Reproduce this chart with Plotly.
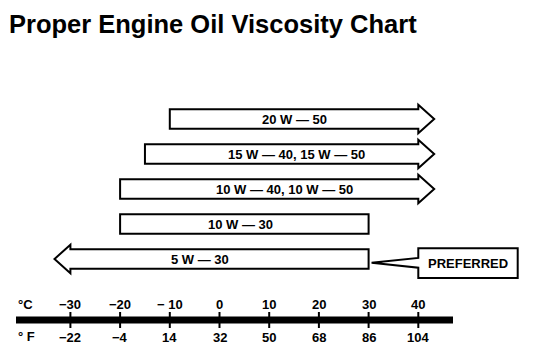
import plotly.graph_objects as go

# ---------------- data ----------------
grades = ["20 W — 50", "15 W — 40, 15 W — 50", "10 W — 40, 10 W — 50", "10 W — 30", "5 W — 30"]
low_c = [-10, -15, -20, -20, -30]          # lowest ambient temperature (°C)
high_c = [40, 40, 40, 30, 30]              # highest ambient temperature (°C)
open_low = [False, False, False, False, True]   # range continues below
open_high = [True, True, True, False, False]    # range continues above
preferred = [False, False, False, False, True]

celsius_ticks = [-30, -20, -10, 0, 10, 20, 30, 40]
celsius_labels = ["−30", "−20", "− 10", "0", "10", "20", "30", "40"]
fahrenheit_labels = ["−22", "−4", "14", "32", "50", "68", "86", "104"]

title = "Proper Engine Oil Viscosity Chart"

# ---------------- style ----------------
OFF = 8                       # page body margin
W, H = 544 - OFF, 356 - OFF   # figure size so it fits the window
px_per_c = 4.97
x0_px = 219.5 - OFF
row_px0, row_step = 119 - OFF, 35
x_range = [-x0_px / px_per_c, (W - x0_px) / px_per_c]
y_range = [(H - row_px0) / row_step, -row_px0 / row_step]


def xpx(p):
    return (p - OFF - x0_px) / px_per_c


def ypx(p):
    return (p - OFF - row_px0) / row_step


FONT = "Liberation Sans, Arial, sans-serif"
shaft_h = 0.28
head_h = 0.41
head_len = 3.2
label_shift = [0.0, 3.0, 3.0, -0.7, -4.0]

shapes = []
annotations = []

for i, g in enumerate(grades):
    lo, hi, y = low_c[i], high_c[i], i
    pts = [(lo, y - shaft_h), (hi, y - shaft_h)]
    if open_high[i]:
        pts += [(hi, y - head_h), (hi + head_len, y), (hi, y + head_h)]
    pts += [(hi, y + shaft_h), (lo, y + shaft_h)]
    if open_low[i]:
        pts += [(lo, y + head_h), (lo - head_len, y), (lo, y - head_h)]
    path = "M " + " L ".join(f"{px},{py}" for px, py in pts) + " Z"
    shapes.append(dict(type="path", path=path, xref="x", yref="y",
                       line=dict(color="black", width=2), fillcolor="white"))
    annotations.append(dict(x=(lo + hi) / 2 + label_shift[i], y=y, xref="x", yref="y",
                            text=g, showarrow=False,
                            font=dict(family=FONT, size=13, color="black", weight="bold")))
    if preferred[i]:
        bx0, bx1 = hi + 10, hi + 30
        by0, by1 = y - 0.31, y + 0.54
        cy = y + 0.11
        callout = (f"M {bx0},{by0} L {bx1},{by0} L {bx1},{by1} L {bx0},{by1} "
                   f"L {bx0},{cy + 0.14} L {hi + 0.6},{cy} L {bx0},{cy - 0.14} Z")
        shapes.append(dict(type="path", path=callout, xref="x", yref="y",
                           line=dict(color="black", width=2), fillcolor="white"))
        annotations.append(dict(x=(bx0 + bx1) / 2, y=(by0 + by1) / 2, xref="x", yref="y",
                                text="PREFERRED", showarrow=False,
                                font=dict(family=FONT, size=13, color="black", weight="bold")))

# temperature scale
bar_y = ypx(320)
shapes.append(dict(type="line", xref="x", yref="y", x0=xpx(16), x1=xpx(453),
                   y0=bar_y, y1=bar_y, line=dict(color="black", width=7)))
for c, cl, fl in zip(celsius_ticks, celsius_labels, fahrenheit_labels):
    shapes.append(dict(type="line", xref="x", yref="y", x0=c, x1=c,
                       y0=ypx(312), y1=ypx(328), line=dict(color="black", width=2)))
    annotations.append(dict(x=c, y=ypx(304), xref="x", yref="y", text=cl, showarrow=False,
                            font=dict(family=FONT, size=13, color="black", weight="bold")))
    annotations.append(dict(x=c, y=ypx(337), xref="x", yref="y", text=fl, showarrow=False,
                            font=dict(family=FONT, size=13, color="black", weight="bold")))
annotations.append(dict(x=xpx(16), y=ypx(304), xref="x", yref="y", text="°C",
                        xanchor="left", showarrow=False,
                        font=dict(family=FONT, size=13, color="black", weight="bold")))
annotations.append(dict(x=xpx(16), y=ypx(336), xref="x", yref="y", text="° F",
                        xanchor="left", showarrow=False,
                        font=dict(family=FONT, size=13, color="black", weight="bold")))

annotations.append(dict(x=(7 - OFF) / W, y=1 - (24 - OFF) / H, xref="paper", yref="paper",
                        text=title, xanchor="left", yanchor="middle", showarrow=False,
                        font=dict(family=FONT, size=25.5, color="black", weight="bold")))

fig = go.Figure()
fig.update_layout(
    width=W, height=H, margin=dict(l=0, r=0, t=0, b=0),
    paper_bgcolor="white", plot_bgcolor="white",
    xaxis=dict(range=x_range, visible=False, fixedrange=True),
    yaxis=dict(range=y_range, visible=False, fixedrange=True),
    shapes=shapes, annotations=annotations, showlegend=False,
)
fig.write_html("out.html")
